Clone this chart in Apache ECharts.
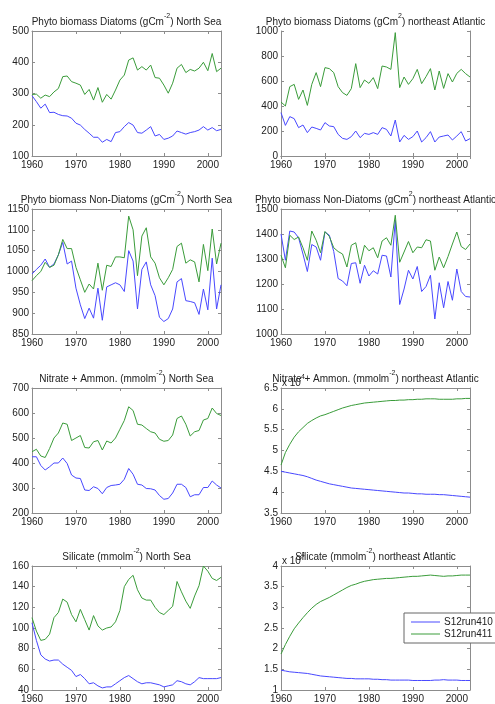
<!DOCTYPE html>
<html>
<head>
<meta charset="utf-8">
<script src="https://cdn.jsdelivr.net/npm/echarts@6/dist/echarts.min.js"></script>
<style>
  html, body { margin: 0; padding: 0; background: #fff; }
  #chart { width: 495px; height: 704px; }
</style>
</head>
<body>
<div id="chart"></div>
<script>
// Model years shared by all panels
const years = [1960,1961,1962,1963,1964,1965,1966,1967,1968,1969,
               1970,1971,1972,1973,1974,1975,1976,1977,1978,1979,
               1980,1981,1982,1983,1984,1985,1986,1987,1988,1989,
               1990,1991,1992,1993,1994,1995,1996,1997,1998,1999,
               2000,2001,2002,2003];

const runNames = ['S12run410', 'S12run411'];

// Phyto biomass, diatoms, North Sea (gC m^-2)
const nsDiatoms410 = [293,274,253,266,239,240,233,229,228,221,
                      205,199,185,173,160,160,144,153,146,175,
                      178,194,207,199,175,173,183,194,164,169,
                      153,157,164,180,175,170,175,178,183,194,
                      183,191,181,185];
const nsDiatoms411 = [297,298,285,295,290,305,316,354,356,338,
                      333,327,297,313,279,319,272,297,282,311,
                      343,359,407,414,375,386,375,391,351,349,
                      327,301,333,381,393,367,377,372,381,400,
                      373,428,370,381];

// Phyto biomass, diatoms, northeast Atlantic
const neaDiatoms410 = [347,245,315,299,227,248,187,232,221,208,
                       267,240,235,173,141,133,155,200,147,181,
                       173,187,173,227,213,160,288,112,165,133,
                       155,200,112,147,195,112,152,160,168,128,
                       160,195,120,139];
const neaDiatoms411 = [432,400,555,573,453,528,405,573,667,555,
                       707,699,667,555,507,485,539,739,547,608,
                       581,627,539,720,712,693,987,547,632,573,
                       619,693,579,635,699,528,680,541,659,592,
                       661,693,659,632];

// Phyto biomass, non-diatoms, North Sea
const nsNonDiatoms410 = [994,1005,1015,1030,1010,1018,1040,1070,1018,1025,
                         960,920,887,912,888,960,883,963,968,973,
                         968,952,1050,1025,910,1005,1023,968,942,890,
                         880,887,910,975,983,930,928,925,897,958,
                         908,1032,910,968];
const nsNonDiatoms411 = [978,990,1000,1022,1010,1015,1040,1077,1055,1055,
                         1010,980,950,970,958,1020,955,1015,1012,1035,
                         1035,1033,1133,1100,990,1085,1105,1035,1020,985,
                         968,985,1005,1060,1068,1020,1028,1023,975,1065,
                         1002,1102,1018,1068];

// Phyto biomass, non-diatoms, northeast Atlantic
const neaNonDiatoms410 = [1400,1295,1412,1408,1385,1320,1250,1358,1348,1295,
                          1408,1395,1330,1222,1212,1193,1282,1285,1203,1275,
                          1232,1253,1240,1315,1312,1228,1455,1118,1180,1255,
                          1220,1270,1170,1190,1235,1060,1205,1105,1210,1135,
                          1260,1170,1150,1148];
const neaNonDiatoms411 = [1315,1265,1395,1378,1388,1345,1295,1412,1375,1325,
                          1410,1390,1345,1330,1320,1268,1355,1365,1280,1355,
                          1333,1345,1305,1372,1385,1355,1475,1287,1328,1370,
                          1325,1348,1345,1377,1372,1255,1308,1265,1310,1360,
                          1408,1350,1338,1360];

// Nitrate + ammonium, North Sea (mmol m^-2)
const nsNitrate410 = [425,425,390,372,385,400,400,420,398,352,
                      340,338,292,290,305,298,277,302,310,312,
                      315,335,378,355,315,312,298,297,292,270,
                      255,258,280,315,315,302,265,273,273,302,
                      302,328,312,300];
const nsNitrate411 = [445,455,428,422,458,500,520,560,555,490,
                      500,510,462,460,485,490,452,488,480,500,
                      535,570,625,610,555,552,538,525,520,495,
                      487,490,512,578,588,555,508,525,530,572,
                      578,620,598,590];

// Nitrate + ammonium, northeast Atlantic, in units of 10^4
const neaNitrate410 = [4.50,4.48,4.46,4.44,4.42,4.40,4.37,4.33,4.29,4.26,
                       4.23,4.20,4.18,4.16,4.14,4.12,4.10,4.09,4.08,4.07,
                       4.06,4.05,4.04,4.03,4.02,4.01,4.00,3.99,3.98,3.98,
                       3.97,3.96,3.96,3.95,3.95,3.95,3.94,3.94,3.93,3.92,
                       3.91,3.90,3.89,3.88];
const neaNitrate411 = [4.65,4.95,5.15,5.32,5.45,5.55,5.65,5.72,5.78,5.83,
                       5.86,5.90,5.94,5.98,6.02,6.05,6.08,6.10,6.12,6.14,
                       6.15,6.16,6.17,6.18,6.19,6.20,6.20,6.21,6.21,6.22,
                       6.22,6.23,6.23,6.24,6.24,6.24,6.23,6.23,6.23,6.23,
                       6.24,6.24,6.25,6.25];

// Silicate, North Sea (mmol m^-2)
const nsSilicate410 = [105,88,74,70,68,69,69,65,62,59,
                       53,55,51,46,47,44,42,43,43,46,
                       49,52,54,51,48,46,47,47,46,45,
                       43,44,45,49,48,46,45,48,52,51,
                       51,51,51,52];
const nsSilicate411 = [110,97,88,89,94,110,115,128,125,113,
                       106,118,108,98,112,102,98,100,101,106,
                       117,140,147,151,137,129,127,127,120,115,
                       113,117,121,145,135,126,119,131,141,160,
                       155,148,146,149];

// Silicate, northeast Atlantic, in units of 10^4
const neaSilicate410 = [1.48,1.46,1.44,1.43,1.42,1.41,1.40,1.38,1.36,1.34,
                        1.33,1.32,1.31,1.30,1.29,1.28,1.28,1.27,1.27,1.27,
                        1.27,1.26,1.26,1.25,1.25,1.24,1.24,1.24,1.24,1.24,
                        1.23,1.23,1.23,1.23,1.23,1.24,1.24,1.25,1.24,1.24,
                        1.24,1.23,1.23,1.23];
const neaSilicate411 = [1.87,2.10,2.30,2.48,2.62,2.75,2.87,2.98,3.07,3.14,
                        3.19,3.24,3.30,3.36,3.42,3.48,3.53,3.56,3.60,3.63,
                        3.65,3.67,3.68,3.69,3.70,3.70,3.71,3.72,3.73,3.74,
                        3.75,3.75,3.76,3.77,3.78,3.77,3.76,3.75,3.76,3.76,
                        3.77,3.78,3.78,3.78];

// Axis ranges per panel: [min, max, interval]
const yRanges = [
  [100, 500, 100], [0, 1000, 200],
  [850, 1150, 50], [1000, 1500, 100],
  [200, 700, 100], [3.5, 6.5, 0.5],
  [40, 160, 20],   [1, 4, 0.5]
];

// Panel titles: [text before superscript, superscript, text after]
const titles = [
  ['Phyto biomass Diatoms (gCm', '-2', ') North Sea'],
  ['Phyto biomass Diatoms (gCm', '2', ') northeast Atlantic'],
  ['Phyto biomass Non-Diatoms (gCm', '-2', ') North Sea'],
  ['Phyto biomass Non-Diatoms (gCm', '2', ') northeast Atlantic'],
  ['Nitrate + Ammon. (mmolm', '-2', ') North Sea'],
  ['Nitrate + Ammon. (mmolm', '-2', ') northeast Atlantic'],
  ['Silicate (mmolm', '-2', ') North Sea'],
  ['Silicate (mmolm', '-2', ') northeast Atlantic']
];

const panelData = [
  [nsDiatoms410, nsDiatoms411], [neaDiatoms410, neaDiatoms411],
  [nsNonDiatoms410, nsNonDiatoms411], [neaNonDiatoms410, neaNonDiatoms411],
  [nsNitrate410, nsNitrate411], [neaNitrate410, neaNitrate411],
  [nsSilicate410, nsSilicate411], [neaSilicate410, neaSilicate411]
];

// Panels whose values are shown scaled by 10^4
const scaledPanels = [5, 7];

const FONT = '"Liberation Sans", Arial, Helvetica, sans-serif';
const TEXT = '#222';
const FRAME = '#8c8c8c';
const LINE_COLORS = ['#4848ff', '#3a9c3a'];

const colLeft = [32, 281];
const rowTop = [31, 209, 388, 566];
const plotW = 189, plotH = 125;

const grid = [], xAxis = [], yAxis = [], series = [], title = [];

// regular text and raised superscript for unit exponents
const rich = {
  n: { fontSize: 10, fontFamily: FONT, fontWeight: 'normal', color: TEXT, lineHeight: 14, verticalAlign: 'bottom' },
  s: { fontSize: 7, fontFamily: FONT, fontWeight: 'normal', color: TEXT, lineHeight: 6, verticalAlign: 'top' }
};
const titleStyle = { fontSize: 10, fontFamily: FONT, fontWeight: 'normal', color: TEXT, lineHeight: 14, rich: rich };

for (let i = 0; i < 8; i++) {
  const left = colLeft[i % 2];
  const top = rowTop[Math.floor(i / 2)];
  grid.push({ left: left, top: top, width: plotW, height: plotH });

  const tick = { show: true, inside: true, length: 3, lineStyle: { color: FRAME, width: 1 } };
  const line = { show: true, lineStyle: { color: FRAME, width: 1 } };

  // bottom x axis with year labels, top mirror with ticks only
  xAxis.push({
    type: 'value', gridIndex: i, position: 'bottom',
    min: 1960, max: 2003, interval: 10,
    axisLine: line, axisTick: tick, splitLine: { show: false },
    axisLabel: {
      fontSize: 10, fontFamily: FONT, color: TEXT, margin: 4,
      formatter: v => (v % 10 === 0 ? String(v) : '')
    }
  });
  xAxis.push({
    type: 'value', gridIndex: i, position: 'top',
    min: 1960, max: 2003, interval: 10,
    axisLine: line, axisTick: tick, splitLine: { show: false },
    axisLabel: { show: false }
  });

  const [ymin, ymax, yint] = yRanges[i];
  yAxis.push({
    type: 'value', gridIndex: i, position: 'left',
    min: ymin, max: ymax, interval: yint,
    axisLine: line, axisTick: tick, splitLine: { show: false },
    axisLabel: {
      fontSize: 10, fontFamily: FONT, color: TEXT, margin: 3,
      formatter: v => String(Math.round(v * 100) / 100)
    }
  });
  yAxis.push({
    type: 'value', gridIndex: i, position: 'right',
    min: ymin, max: ymax, interval: yint,
    axisLine: line, axisTick: tick, splitLine: { show: false },
    axisLabel: { show: false }
  });

  panelData[i].forEach((vals, k) => {
    series.push({
      name: runNames[k], type: 'line',
      xAxisIndex: 2 * i, yAxisIndex: 2 * i,
      data: years.map((y, j) => [y, vals[j]]),
      symbol: 'none', showSymbol: false,
      lineStyle: { color: LINE_COLORS[k], width: 1 },
      itemStyle: { color: LINE_COLORS[k] },
      animation: false, silent: true
    });
  });

  const [a, sup, b] = titles[i];
  title.push({
    text: '{n|' + a + '}{s|' + sup + '}{n|' + b + '}',
    left: left + plotW / 2, top: top - 18, textAlign: 'center',
    padding: 0,
    textStyle: titleStyle
  });

  if (scaledPanels.includes(i)) {
    title.push({
      text: '{n|x 10}{s|4}',
      left: left + 1, top: top - 14, padding: 0,
      textStyle: titleStyle
    });
  }
}

const chart = echarts.init(document.getElementById('chart'), null, { renderer: 'canvas' });
chart.setOption({
  backgroundColor: '#fff',
  animation: false,
  title: title,
  grid: grid,
  xAxis: xAxis,
  yAxis: yAxis,
  legend: {
    data: runNames,
    orient: 'vertical',
    left: 404, top: 613,
    icon: 'rect', itemWidth: 29, itemHeight: 1, itemGap: 2,
    padding: [4, 6, 4, 7],
    backgroundColor: '#fff',
    borderColor: '#666', borderWidth: 1,
    textStyle: { fontSize: 10, fontFamily: FONT, color: TEXT, padding: [0, 0, 0, -1] }
  },
  series: series
});
</script>
</body>
</html>
